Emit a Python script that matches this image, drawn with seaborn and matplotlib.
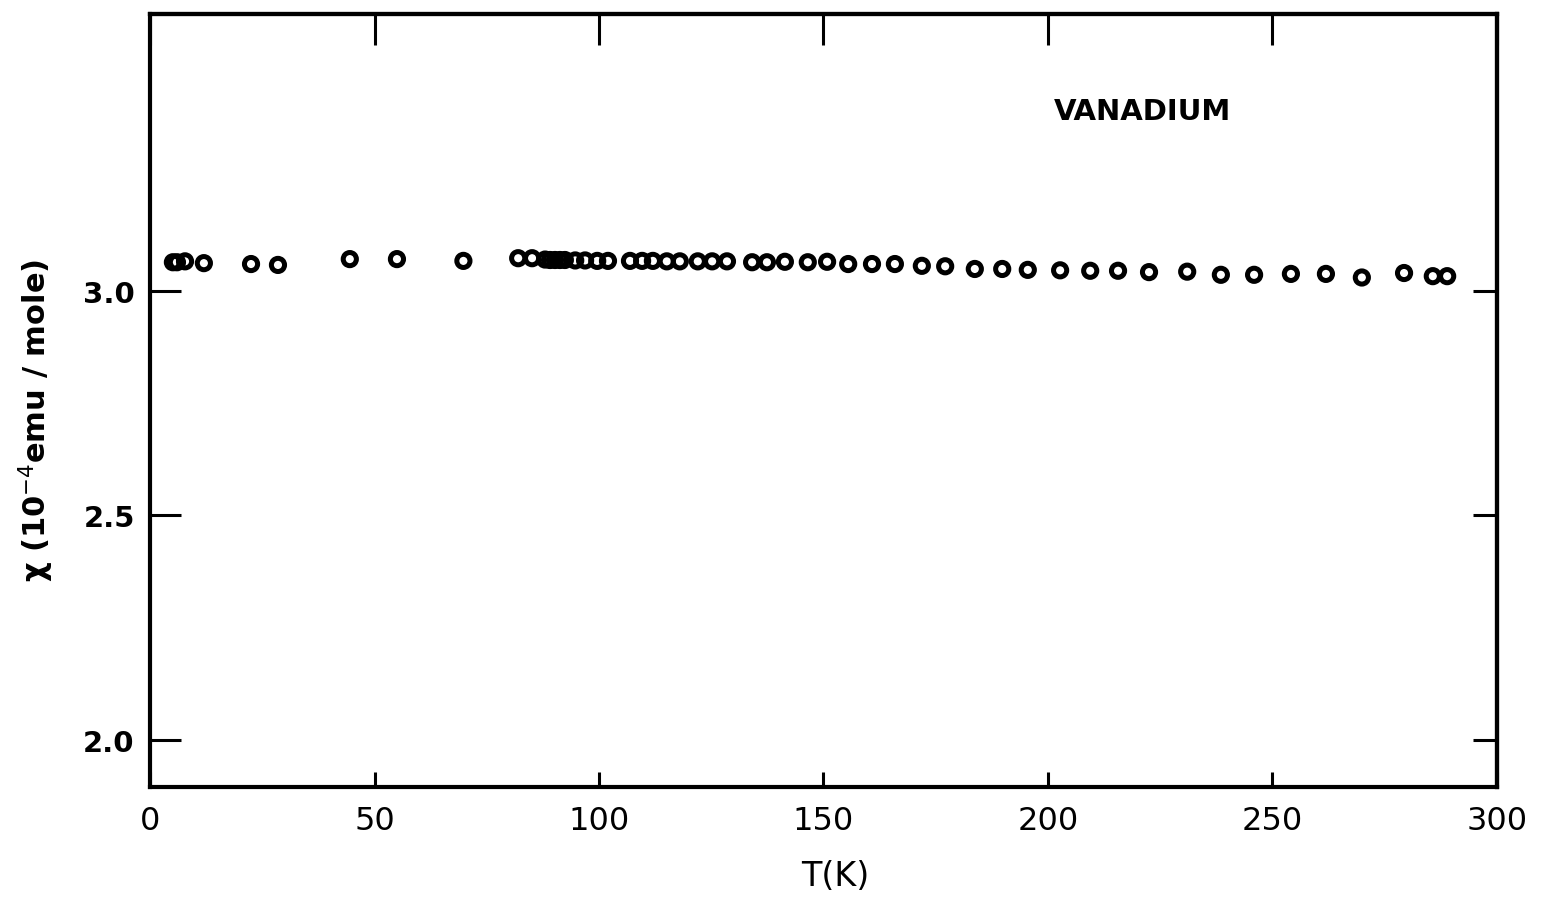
import matplotlib
matplotlib.use("Agg")
import matplotlib.pyplot as plt
import seaborn as sns
import pandas as pd

# Temperature (K)
temperature = [5.1, 6.0, 7.8, 12.0, 22.5, 28.5, 44.5, 55.0, 69.8,
               82.0, 85.1, 88.0, 89.1, 90.2, 91.3, 92.4, 94.7, 96.9, 99.6, 102.0,
               106.9, 109.6, 112.0, 115.1, 118.0, 122.0, 125.2, 128.5,
               134.1, 137.4, 141.4, 146.5, 150.8, 155.5, 160.8, 165.9, 171.9,
               177.1, 183.7, 189.8, 195.5, 202.7, 209.4, 215.6, 222.5, 231.0,
               238.5, 245.9, 254.1, 261.9, 269.9, 279.3, 285.7, 288.9]
# Susceptibility chi (1e-4 emu/mole)
chi = [3.064, 3.064, 3.066, 3.062, 3.060, 3.058, 3.071, 3.071, 3.067,
       3.073, 3.073, 3.070, 3.069, 3.069, 3.069, 3.069, 3.068, 3.068, 3.067, 3.067,
       3.067, 3.067, 3.067, 3.066, 3.066, 3.066, 3.066, 3.066,
       3.064, 3.064, 3.065, 3.064, 3.065, 3.060, 3.060, 3.060, 3.056,
       3.055, 3.049, 3.049, 3.047, 3.046, 3.045, 3.045, 3.042, 3.043,
       3.036, 3.036, 3.038, 3.038, 3.030, 3.040, 3.033, 3.033]

x_ticks = [0, 50, 100, 150, 200, 250, 300]
y_ticks = [2.0, 2.5, 3.0]
y_tick_labels = ["2.0", "2.5", "3.0"]

df = pd.DataFrame({"T": temperature, "chi": chi})

sns.set_style("white")
plt.rcParams['font.family'] = ['DejaVu Sans']
plt.rcParams['text.color'] = 'black'
plt.rcParams['axes.labelcolor'] = 'black'
plt.rcParams['xtick.color'] = 'black'
plt.rcParams['ytick.color'] = 'black'

fig = plt.figure(figsize=(15.45, 9.04), dpi=100)
ax = fig.add_axes([150/1545, 1-788/904, 1347/1545, 773/904])

sns.scatterplot(data=df, x="T", y="chi", ax=ax, marker="o", s=90,
                facecolor="none", edgecolor="black", linewidth=3.6, legend=False)

ax.set_xlim(0, 300)
ax.set_ylim(1.895, 3.617)

for sp in ax.spines.values():
    sp.set_linewidth(3.0)
    sp.set_color("black")

ax.set_xticks(x_ticks)
ax.set_xticklabels([str(t) for t in x_ticks], fontsize=23)
ax.set_yticks(y_ticks)
ax.set_yticklabels(y_tick_labels, fontsize=21, fontweight="bold")
ax.tick_params(axis="x", direction="in", length=11, width=2.2, pad=13,
               bottom=True, top=False, colors="black")
ax.tick_params(axis="y", direction="in", length=22, width=2.2, pad=11,
               left=True, right=False, colors="black")

top = ax.secondary_xaxis("top")
top.set_xticks(x_ticks)
top.set_xticklabels([])
top.tick_params(direction="in", length=22, width=2.2, colors="black")
top.spines["top"].set_linewidth(3.0)
top.spines["top"].set_color("black")

right = ax.secondary_yaxis("right")
right.set_yticks(y_ticks)
right.set_yticklabels([])
right.tick_params(direction="in", length=17, width=2.2, colors="black")
right.spines["right"].set_linewidth(3.0)
right.spines["right"].set_color("black")

ax.set_xlabel("T(K)", fontsize=24, color="black")
ax.xaxis.set_label_coords((835-150)/1347, (788-860)/773)
ax.set_ylabel("χ (10$^{-4}$emu / mole)", fontsize=22, fontweight="bold",
              color="black")
ax.yaxis.set_label_coords((56-150)/1347, 1-(420-15)/773)

ax.text(0.737, 0.875, "VANADIUM", transform=ax.transAxes, fontsize=21,
        fontweight="bold", ha="center", va="center", color="black")

fig.savefig("out.png", dpi=100, facecolor="white")
